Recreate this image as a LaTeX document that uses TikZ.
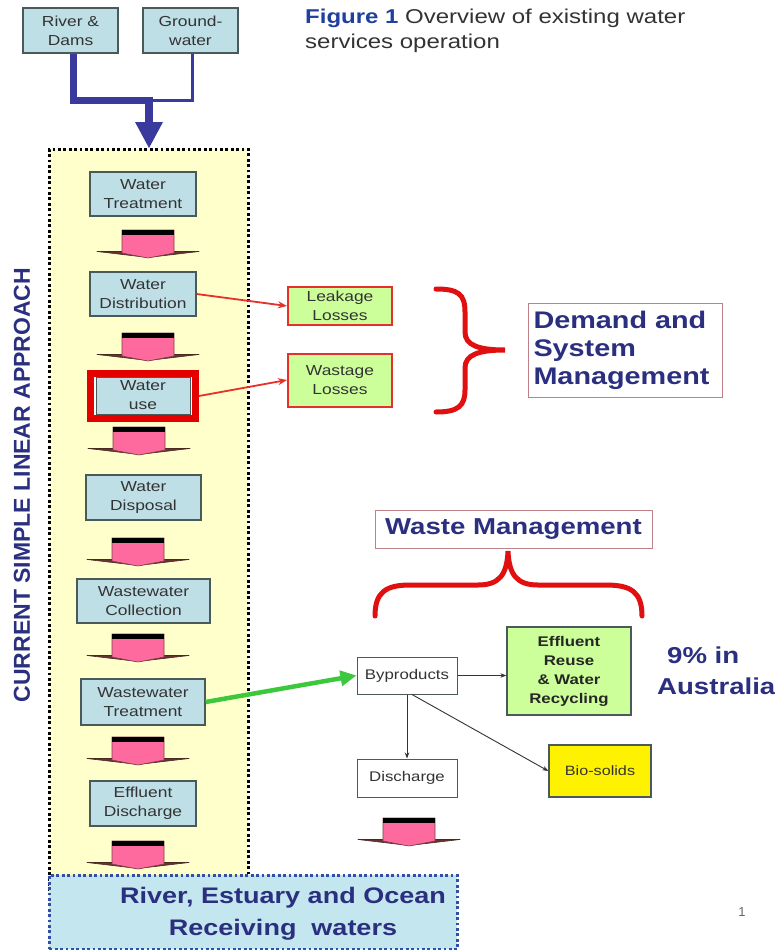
\documentclass[tikz,border=0pt]{standalone}
\usepackage{fontspec}
\setmainfont{Liberation Sans}
\newfontfamily\ws[FakeStretch=1.2]{Liberation Sans}
\usetikzlibrary{arrows.meta}
\definecolor{boxblue}{HTML}{BFDFE6}
\definecolor{boxedge}{HTML}{4A5A5A}
\definecolor{paleyellow}{HTML}{FFFFCC}
\definecolor{navy}{HTML}{2B2F7F}
\definecolor{arrowblue}{HTML}{3A3A9E}
\definecolor{pinkfill}{HTML}{FF6A9E}
\definecolor{flare}{HTML}{4A2A20}
\definecolor{lgreen}{HTML}{CCFF99}
\definecolor{lossred}{HTML}{E8302A}
\definecolor{bracered}{HTML}{E01010}
\definecolor{rose}{HTML}{C08088}
\definecolor{green2}{HTML}{3CC83C}
\definecolor{water}{HTML}{C4E6EE}
\definecolor{dotblue}{HTML}{3050A8}
\definecolor{titleblue}{HTML}{2040A0}
\definecolor{darktext}{HTML}{333333}
\newcommand\pinkarrow[2]{%
  \begin{scope}[shift={(#1,#2)}]
    \filldraw[fill=flare!85!pinkfill, draw=flare, line width=0.6pt, line join=round]
      (-51,21.5) -- (51,21.5) -- (0,27.5) -- cycle;
    \filldraw[fill=pinkfill, draw=flare!70!pinkfill, line width=0.6pt, line join=round]
      (-26,0) -- (26,0) -- (26,23) -- (0,28) -- (-26,23) -- cycle;
    \fill[black] (-26,0) rectangle (26,4.5);
  \end{scope}}
\tikzset{
  colbox/.style={draw=boxedge, line width=1.3pt, fill=boxblue, align=center, inner sep=0pt,
    font=\ws\fontsize{14.5}{19}\selectfont, text=darktext},
  srcbox/.style={colbox},
  lossbox/.style={draw=lossred, line width=2pt, fill=lgreen, align=center, inner sep=0pt,
    font=\ws\fontsize{14.5}{19}\selectfont, text=darktext},
  mgmtbox/.style={draw=rose, line width=1pt, fill=white, inner sep=0pt,
    font=\ws\bfseries\fontsize{24}{28}\selectfont, text=navy},
  plainbox/.style={draw=boxedge, line width=1pt, fill=white, align=center, inner sep=0pt,
    font=\ws\fontsize{14}{17}\selectfont, text=darktext},
  dotframe/.style={line width=2.8pt, dash pattern=on 2.8pt off 2.6pt},
  lossarrow/.style={lossred, line width=1.8pt, -{Stealth[length=9pt,width=7pt]}},
  thinarrow/.style={black!80, line width=0.9pt, -{Stealth[length=6pt,width=4.5pt]}},
  bigtext/.style={font=\ws\bfseries\fontsize{23}{30}\selectfont, text=navy},
}
\begin{document}
\begin{tikzpicture}[x=1pt, y=-1pt]
\useasboundingbox (0,0) rectangle (774,950);
\fill[white] (0,0) rectangle (774,950);

% title
\node[anchor=north west, align=left, inner sep=0pt, font=\ws\fontsize{20}{25}\selectfont, text=darktext]
  (title) at (305,9) {{\bfseries\color{titleblue}Figure 1} Overview of existing water\\services operation};

% yellow linear region
\node[draw=black, dotframe, fill=paleyellow, minimum width=199, minimum height=742, anchor=north west, inner sep=0pt] (lin) at (48,148) {};

% sources
\node[srcbox, minimum width=95, minimum height=45] (rd) at (70.5,30.5) {River \&\\Dams};
\node[srcbox, minimum width=95, minimum height=45] (gw) at (190.5,30.5) {Ground-\\water};
\coordinate (join) at (149,100);
\draw[arrowblue, line width=7pt, line join=miter] ([xshift=2.5pt]rd.south) |- (join);
\draw[arrowblue, line width=3pt] ([xshift=1.5pt]gw.south) |- (join);
\draw[arrowblue, line width=8pt] (149,96.5) -- (149,124);
\fill[arrowblue] (135,122) -- (163,122) -- (149,148) -- cycle;

% vertical label
\node[rotate=90, font=\bfseries\fontsize{23}{27}\selectfont, text=navy, inner sep=0pt] (vlab) at (22,485) {CURRENT SIMPLE LINEAR APPROACH};

% column
\node[colbox, minimum width=106, minimum height=44] (wt) at (143,194) {Water\\Treatment};
\pinkarrow{148}{230}
\node[colbox, minimum width=106, minimum height=44] (wd) at (143,294) {Water\\Distribution};
\pinkarrow{148}{333}
\node[draw=red!90!black, line width=7pt, fill=white, minimum width=105, minimum height=45, inner sep=0pt] (wuo) at (143,396) {};
\node[colbox, line width=1pt, minimum width=94, minimum height=37] (wu) at (143,395.5) {Water\\use};
\pinkarrow{139}{427}
\node[colbox, minimum width=115, minimum height=45] (wdp) at (143.5,497.5) {Water\\Disposal};
\pinkarrow{138}{538}
\node[colbox, minimum width=133, minimum height=44] (wwc) at (143.5,601) {Wastewater\\Collection};
\pinkarrow{138}{634}
\node[colbox, minimum width=124, minimum height=46] (wwt) at (143,702) {Wastewater\\Treatment};
\pinkarrow{138}{737}
\node[colbox, minimum width=106, minimum height=45] (ed) at (143,803.5) {Effluent\\Discharge};
\pinkarrow{138}{841}

% receiving waters
\node[draw=dotblue, dotframe, fill=water, minimum width=408, minimum height=74, anchor=north west, inner sep=0pt] (rcv) at (48,874) {};
\node[align=center, inner sep=0pt, font=\ws\bfseries\fontsize{22.5}{32}\selectfont, text=navy] (rcvt) at (283,914) {River, Estuary and Ocean\\Receiving\ \ waters};
\node[font=\fontsize{13}{15}\selectfont, text=black!60, inner sep=0pt] (pg) at (742,912) {1};

% losses
\node[lossbox, minimum width=104, minimum height=38] (leak) at (340,306) {Leakage\\Losses};
\node[lossbox, minimum width=104, minimum height=53] (wast) at (340,380) {Wastage\\Losses};
\draw[lossarrow] (wd.east) -- (leak.west);
\draw[lossarrow] (wuo.east) -- (wast.west);

% demand brace
\draw[bracered, line width=5pt, line cap=round]
  (436,289) .. controls (458,289) and (465,294) .. (465,312) -- (465,332)
  .. controls (465,345) and (478,350) .. (505,350)
  .. controls (478,350) and (465,355) .. (465,368) -- (465,390)
  .. controls (465,406) and (458,412) .. (436,412);
\node[mgmtbox, minimum width=194, minimum height=94] (dsm) at (625,350) {};
\node[mgmtbox, draw=none, fill=none, anchor=west, align=left] (dsmt) at (533,350) {Demand and\\System\\Management};

% waste management
\node[mgmtbox, font=\ws\bfseries\fontsize{23}{28}\selectfont, minimum width=277, minimum height=38] (wm) at (513.5,529) {Waste Management};
\draw[bracered, line width=5pt, line cap=round]
  (375,616) .. controls (375,592) and (386,585) .. (410,585) -- (478,585)
  .. controls (499,585) and (507,575) .. (508,551)
  .. controls (509,575) and (517,585) .. (538,585) -- (606,585)
  .. controls (631,585) and (642,592) .. (642,616);

% byproducts
\node[plainbox, minimum width=100, minimum height=37] (byp) at (407,675.5) {Byproducts};
\node[draw=boxedge, line width=1.3pt, fill=lgreen, align=center, inner sep=0pt,
  font=\ws\bfseries\fontsize{14}{19}\selectfont, text=black!85, minimum width=124, minimum height=88] (eff) at (569,671) {Effluent\\Reuse\\\& Water\\Recycling};
\node[draw=boxedge, line width=1.3pt, fill=yellow, inner sep=0pt,
  font=\ws\fontsize{13.5}{16}\selectfont, text=darktext, minimum width=102, minimum height=52] (bio) at (600,771) {Bio-solids};
\node[plainbox, minimum width=100, minimum height=38] (dis) at (407,778) {Discharge};
\pinkarrow{409}{818}

\draw[thinarrow] (byp.east) -- (byp.east -| eff.west);
\draw[thinarrow] (byp.south) -- (dis.north);
\draw[thinarrow] ([xshift=5pt]byp.south) -- (bio.west);
\draw[green2, line width=4.5pt, -{Triangle[length=16pt,width=15pt]}] (wwt.east) -- (byp.west);

% 9% in Australia
\node[bigtext, anchor=west, inner sep=0pt] (pct) at (667,655) {9\% in};
\node[bigtext, anchor=west, inner sep=0pt] (aus) at (657,686) {Australia};
\end{tikzpicture}
\end{document}
